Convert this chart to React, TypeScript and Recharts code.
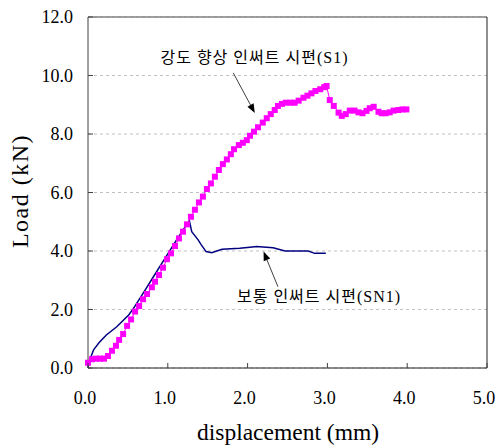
import React from 'react';
import { LineChart, Line, XAxis, YAxis, CartesianGrid, ReferenceLine, ReferenceDot } from 'recharts';

// 강도 향상 인써트 시편 (S1)
const s1X = [0, 0.05, 0.1, 0.15, 0.2, 0.25, 0.3, 0.35, 0.39, 0.44, 0.49, 0.54, 0.59, 0.64, 0.69, 0.74, 0.8, 0.84, 0.89, 0.94, 0.99, 1.04, 1.09, 1.14, 1.19, 1.24, 1.29, 1.34, 1.39, 1.44, 1.49, 1.54, 1.59, 1.64, 1.69, 1.74, 1.79, 1.83, 1.89, 1.94, 1.99, 2.03, 2.08, 2.13, 2.19, 2.24, 2.29, 2.34, 2.38, 2.43, 2.48, 2.54, 2.59, 2.64, 2.7, 2.75, 2.8, 2.85, 2.91, 2.96, 2.99, 3.03, 3.08, 3.14, 3.18, 3.23, 3.28, 3.34, 3.39, 3.44, 3.49, 3.53, 3.58, 3.64, 3.68, 3.73, 3.78, 3.83, 3.89, 3.94, 3.99];
const s1Y = [0.18, 0.3, 0.32, 0.32, 0.32, 0.41, 0.59, 0.76, 0.96, 1.16, 1.44, 1.66, 1.93, 2.12, 2.35, 2.53, 2.76, 2.95, 3.18, 3.43, 3.72, 3.92, 4.17, 4.43, 4.66, 4.91, 5.17, 5.41, 5.66, 5.86, 6.12, 6.31, 6.54, 6.77, 6.97, 7.13, 7.31, 7.48, 7.62, 7.7, 7.79, 7.94, 8.08, 8.23, 8.39, 8.54, 8.68, 8.82, 8.96, 9.03, 9.07, 9.07, 9.07, 9.14, 9.24, 9.31, 9.39, 9.47, 9.53, 9.6, 9.64, 9.16, 8.96, 8.73, 8.62, 8.68, 8.8, 8.8, 8.74, 8.71, 8.79, 8.88, 8.93, 8.76, 8.71, 8.71, 8.74, 8.8, 8.82, 8.84, 8.84];

// 보통 인써트 시편 (SN1)
const sn1X = [0, 0.02, 0.07, 0.14, 0.23, 0.36, 0.51, 0.57, 0.69, 0.82, 0.99, 1.11, 1.22, 1.27, 1.3, 1.38, 1.42, 1.48, 1.55, 1.68, 1.9, 2.03, 2.11, 2.32, 2.47, 2.76, 2.84, 2.98];
const sn1Y = [0, 0.27, 0.62, 0.87, 1.13, 1.41, 1.81, 2.04, 2.55, 3.12, 3.86, 4.38, 4.83, 5.04, 4.66, 4.38, 4.21, 3.98, 3.94, 4.06, 4.09, 4.13, 4.15, 4.11, 4.0, 4.0, 3.92, 3.92];

const xTicks = [0, 1, 2, 3, 4, 5];
const yTicks = [0, 2, 4, 6, 8, 10, 12];

const s1Label = '강도 향상 인써트 시편(S1)';
const sn1Label = '보통 인써트 시편(SN1)';

const s1Data = s1X.map((x, i) => ({ x, y: s1Y[i] }));
const sn1Data = sn1X.map((x, i) => ({ x, y: sn1Y[i] }));

const SERIF = '"Liberation Serif", "Times New Roman", serif';
const KFONT = '"Liberation Serif", "Noto Sans CJK KR", serif';

const SquareDot = (p: any) => {
  const { cx, cy, index } = p;
  if (cx == null || cy == null) return <g key={index} />;
  return <rect key={index} x={cx - 3} y={cy - 3} width={6} height={6} fill="#FF00FF" />;
};

const YTick = (p: any) => {
  const { x, y, payload } = p;
  return (
    <g>
      <line x1={x + 15} y1={y} x2={x + 20} y2={y} stroke="#404040" />
      <text x={x} y={y} textAnchor="end" dominantBaseline="central" fontFamily={SERIF} fontSize={18} fill="#000">
        {Number(payload.value).toFixed(1)}
      </text>
    </g>
  );
};

const XTick = (p: any) => {
  const { x, y, payload } = p;
  return (
    <g>
      <line x1={x} y1={y} x2={x} y2={y - 5} stroke="#404040" />
      <text x={x - 3} y={y + 30} textAnchor="middle" dominantBaseline="central" fontFamily={SERIF} fontSize={18} fill="#000">
        {Number(payload.value).toFixed(1)}
      </text>
    </g>
  );
};

const Arrow = (p: any) => {
  const { x1, y1, x2, y2 } = p;
  const dx = x2 - x1;
  const dy = y2 - y1;
  const len = Math.sqrt(dx * dx + dy * dy) || 1;
  const ux = dx / len;
  const uy = dy / len;
  const hl = 9;
  const hw = 3.5;
  const bx = x2 - ux * hl;
  const by = y2 - uy * hl;
  return (
    <g>
      <line x1={x1} y1={y1} x2={bx} y2={by} stroke="#404040" strokeWidth={1} />
      <polygon
        points={`${x2},${y2} ${bx - uy * hw},${by + ux * hw} ${bx + uy * hw},${by - ux * hw}`}
        fill="#000"
      />
    </g>
  );
};

const makeTextShape = (label: string) => (p: any) => (
  <text x={p.cx} y={p.cy} textAnchor="middle" dominantBaseline="central" fontFamily={KFONT} fontSize={16} letterSpacing={1} fill="#000">
    {label}
  </text>
);

export default function App() {
  return (
    <div style={{ position: 'absolute', left: 0, top: 0, width: 496, height: 445, background: '#fff' }}>
      <LineChart width={496} height={445} margin={{ top: 17, right: 9, bottom: 47, left: 28 }}>
        <CartesianGrid vertical={false} horizontal={true} strokeDasharray="3 3" stroke="#c0c0c0" />
        <XAxis
          type="number"
          dataKey="x"
          domain={[0, 5]}
          ticks={xTicks}
          allowDuplicatedCategory={false}
          height={30}
          tickSize={0}
          tickMargin={0}
          tickLine={false}
          axisLine={{ stroke: '#202020' }}
          tick={<XTick />}
          label={(lp: any) => (
            <text x={288} y={432} textAnchor="middle" dominantBaseline="central" fontFamily={SERIF} fontSize={23.5} fill="#000">
              displacement (mm)
            </text>
          )}
        />
        <YAxis
          type="number"
          dataKey="y"
          domain={[0, 12]}
          ticks={yTicks}
          width={60}
          tickSize={0}
          tickMargin={15}
          tickLine={false}
          axisLine={{ stroke: '#404040' }}
          tick={<YTick />}
          label={(lp: any) => (
            <text x={20} y={191} textAnchor="middle" dominantBaseline="central" transform="rotate(-90 20 191)" fontFamily={SERIF} fontSize={24} letterSpacing={1.5} fill="#000">
              Load (kN)
            </text>
          )}
        />
        <ReferenceLine y={12} stroke="#808080" strokeWidth={1.5} />
        <ReferenceLine x={5} stroke="#202020" strokeWidth={1} />
        <Line
          data={sn1Data}
          dataKey="y"
          type="linear"
          stroke="#000080"
          strokeWidth={1.5}
          dot={false}
          isAnimationActive={false}
        />
        <Line
          data={s1Data}
          dataKey="y"
          type="linear"
          stroke="#FF00FF"
          strokeWidth={1}
          dot={<SquareDot />}
          isAnimationActive={false}
        />
        <ReferenceLine segment={[{ x: 1.82, y: 10.09 }, { x: 2.09, y: 8.72 }]} shape={<Arrow />} />
        <ReferenceLine segment={[{ x: 2.38, y: 2.78 }, { x: 2.2, y: 3.98 }]} shape={<Arrow />} />
        <ReferenceDot x={2.086} y={10.63} r={0} shape={makeTextShape(s1Label)} />
        <ReferenceDot x={2.895} y={2.44} r={0} shape={makeTextShape(sn1Label)} />
      </LineChart>
    </div>
  );
}
